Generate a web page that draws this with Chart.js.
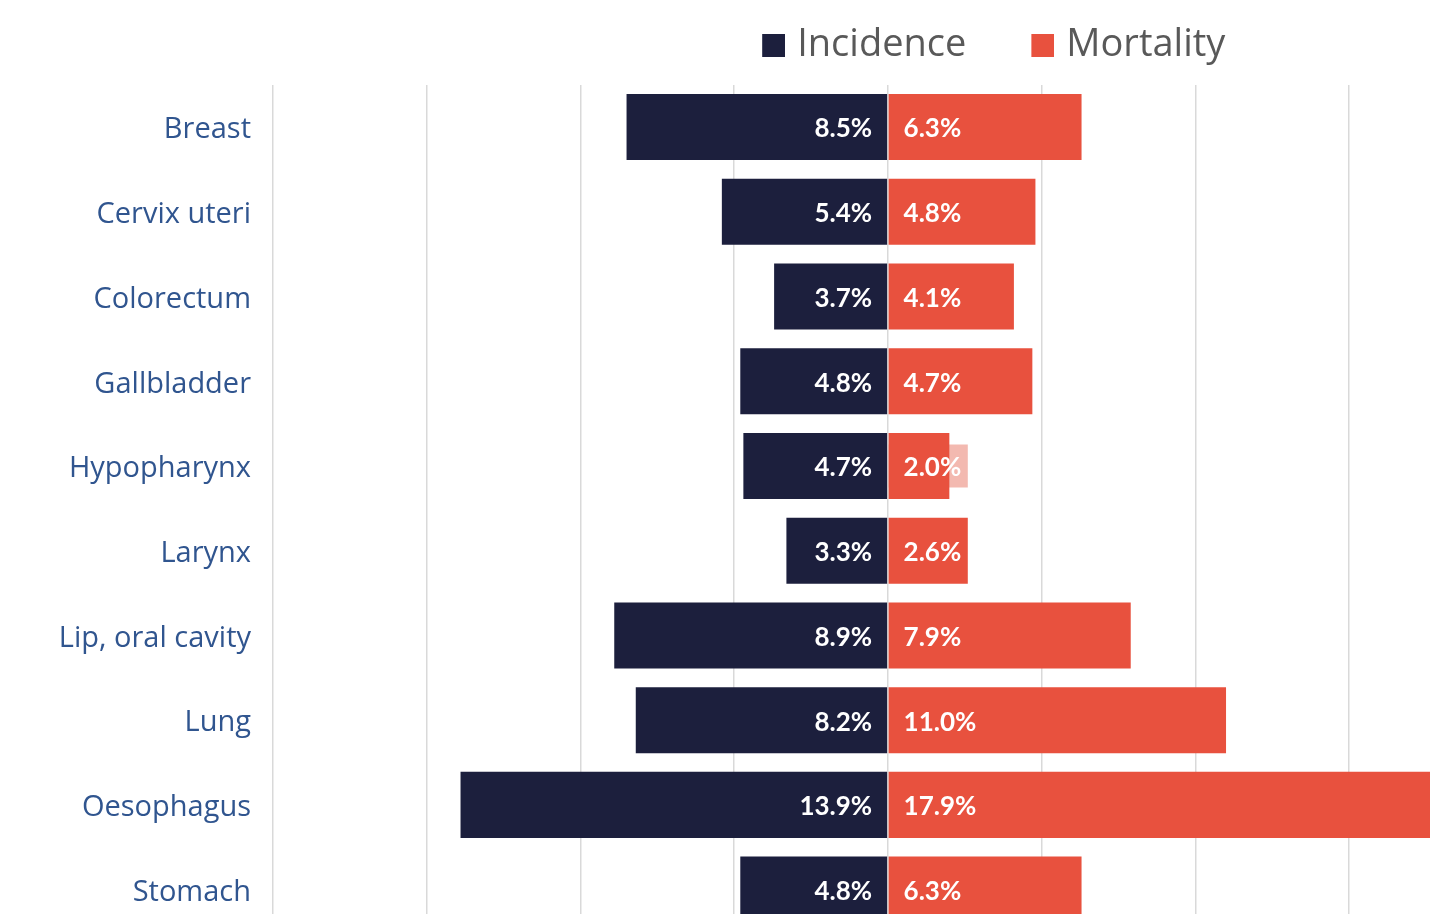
<!DOCTYPE html>
<html>
<head>
<meta charset="utf-8">
<script src="https://cdn.jsdelivr.net/npm/chart.js@4.4.1/dist/chart.umd.min.js"></script>
<style>
  html, body { margin: 0; padding: 0; background: #ffffff; overflow: hidden; width: 1430px; height: 914px; }
  #wrap { position: absolute; left: 0; top: 0; width: 1988px; height: 932px; }
</style>
</head>
<body>
<div id="wrap"><canvas id="c" width="1988" height="932"></canvas></div>
<script>
// ---- data ----
const categories = ['Breast', 'Cervix uteri', 'Colorectum', 'Gallbladder', 'Hypopharynx', 'Larynx', 'Lip, oral cavity', 'Lung', 'Oesophagus', 'Stomach'];
const incidence = [8.5, 5.4, 3.7, 4.8, 4.7, 3.3, 8.9, 8.2, 13.9, 4.8];
const mortality = [6.3, 4.8, 4.1, 4.7, 2.0, 2.6, 7.9, 11.0, 17.9, 6.3];
const ghostOverlay = [null, null, null, null, 2.6, null, null, null, null, null];
const seriesNames = ['Incidence', 'Mortality'];
const xTicks = [-20, -15, -10, -5, 0, 5, 10, 15, 20, 25, 30];
const xMin = -20;
const xMax = 34.5;

const NAVY = '#1C1F3D';
const RED = '#E8513E';
const GHOST = '#F3B9B0';
const LABEL_BLUE = '#30558F';

// legend swatch: transparent lead-in keeps the gap between legend items wide
function swatch(color) {
  const c = document.createElement('canvas');
  c.width = 69; c.height = 23;
  const g = c.getContext('2d');
  g.fillStyle = color;
  g.fillRect(46, 0, 23, 23);
  return c;
}
const swatches = [swatch(NAVY), swatch(RED)];

const barLabels = {
  id: 'barLabels',
  afterDatasetsDraw(chart) {
    const ctx = chart.ctx;
    ctx.save();
    ctx.font = 'bold 26px Lato';
    ctx.fillStyle = '#ffffff';
    ctx.textBaseline = 'middle';
    [0, 1].forEach(di => {
      const meta = chart.getDatasetMeta(di);
      const src = di === 0 ? incidence : mortality;
      meta.data.forEach((bar, i) => {
        const txt = src[i].toFixed(1) + '%';
        if (di === 0) {
          ctx.textAlign = 'right';
          ctx.fillText(txt, bar.base - 15, bar.y + 2);
        } else {
          ctx.textAlign = 'left';
          ctx.fillText(txt, bar.base + 15, bar.y + 2);
        }
      });
    });
    ctx.restore();
  }
};

new Chart(document.getElementById('c'), {
  type: 'bar',
  data: {
    labels: categories,
    datasets: [
      { label: seriesNames[0], data: incidence.map(v => -v), backgroundColor: NAVY, grouped: false, barPercentage: 0.78, categoryPercentage: 1 },
      { label: seriesNames[1], data: mortality, backgroundColor: RED, grouped: false, barPercentage: 0.78, categoryPercentage: 1 },
      { label: 'overlay', data: ghostOverlay, backgroundColor: GHOST, grouped: false, barPercentage: 0.51, categoryPercentage: 1 }
    ]
  },
  options: {
    indexAxis: 'y',
    responsive: false,
    animation: false,
    devicePixelRatio: 1,
    layout: { padding: { top: 0, right: 39.5, bottom: 0, left: 0 } },
    plugins: {
      tooltip: { enabled: false },
      legend: {
        display: true,
        position: 'top',
        align: 'center',
        labels: {
          usePointStyle: true,
          pointStyleWidth: 55,
          padding: 26,
          color: '#595959',
          font: { family: 'Open Sans', size: 38 },
          generateLabels(chart) {
            const items = Chart.defaults.plugins.legend.labels.generateLabels(chart).filter(it => it.datasetIndex < 2);
            items.forEach(it => { it.pointStyle = swatches[it.datasetIndex]; });
            return items;
          }
        }
      }
    },
    scales: {
      x: {
        type: 'linear',
        position: 'top',
        min: xMin,
        max: xMax,
        afterBuildTicks(s) { s.ticks = xTicks.map(v => ({ value: v })); },
        afterFit(s) { s.height = 10.7; },
        ticks: { display: false, stepSize: 5, includeBounds: false },
        grid: { color: '#D9D9D9', lineWidth: 1.5, drawTicks: false },
        border: { display: false }
      },
      y: {
        type: 'category',
        afterFit(s) { s.width = 273; s.paddingTop = 0; s.paddingBottom = 0; },
        grid: { display: false, drawTicks: false },
        border: { display: false },
        ticks: { color: LABEL_BLUE, font: { family: 'Open Sans', size: 29 }, padding: 22, labelOffset: 3 }
      }
    }
  },
  plugins: [barLabels]
});
</script>
</body>
</html>
